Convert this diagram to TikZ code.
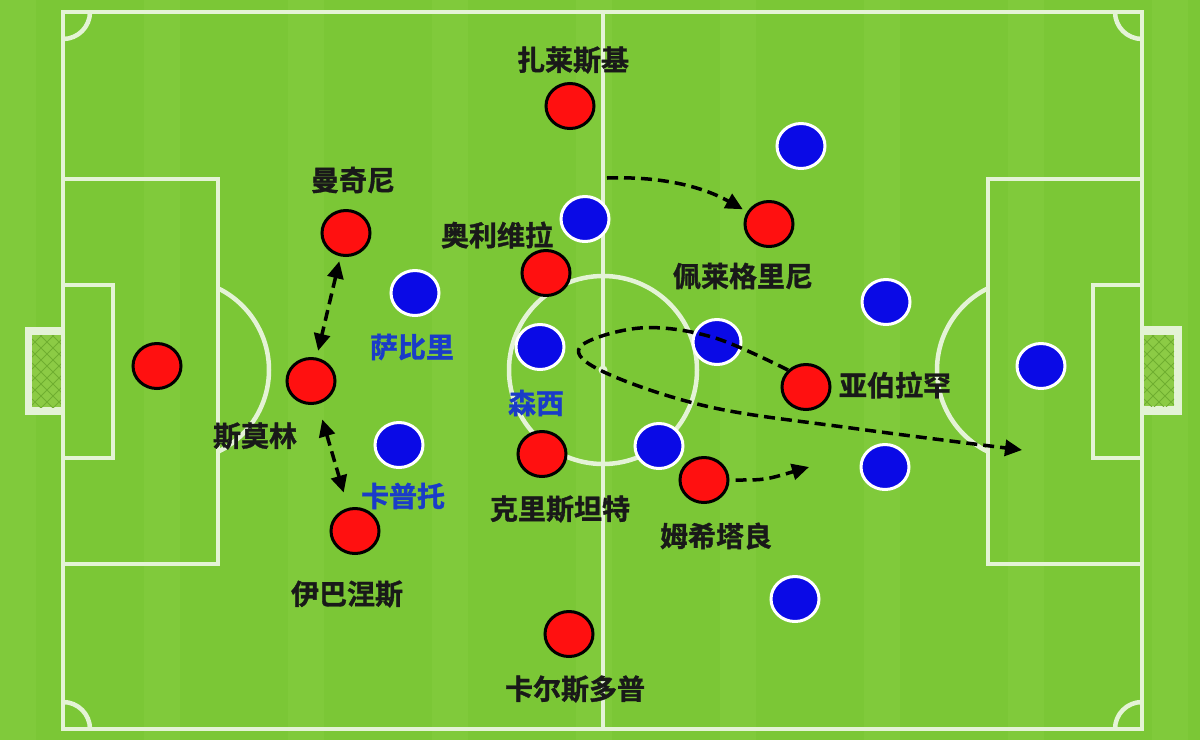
\documentclass[tikz,border=0pt]{standalone}
\usepackage{fontspec}
\newfontfamily\cjk{Noto Sans CJK SC}[BoldFont={* Bold},BoldFeatures={FakeBold=1.2}]
\usetikzlibrary{arrows.meta,shapes.geometric}
\definecolor{grassA}{HTML}{7BC736}
\definecolor{grassB}{HTML}{80CA3B}
\definecolor{pline}{HTML}{E4F3D6}
\definecolor{netfill}{HTML}{8CCB45}
\definecolor{netline}{HTML}{6FAE30}
\definecolor{redp}{HTML}{FF1010}
\definecolor{bluep}{HTML}{0A0AE6}
\definecolor{bluetxt}{HTML}{1A3CC8}
\tikzset{
  pitchline/.style={draw=pline,line width=4.5},
  redpl/.style={ellipse,fill=redp,draw=black,line width=3,minimum width=48,minimum height=45,inner sep=0},
  bluepl/.style={ellipse,fill=bluep,draw=white,line width=3,minimum width=48,minimum height=45,inner sep=0},
  plname/.style={font=\cjk\bfseries\fontsize{28}{32}\selectfont,text=black!90,inner sep=0},
  bplname/.style={plname,text=bluetxt},
  dashy/.style={draw=black,line width=3.5,dash pattern=on 11 off 6,-{Triangle[length=17,width=16]}},
  dbl/.style={draw=black,line width=3.5,dash pattern=on 11 off 6,{Triangle[length=17,width=16]}-{Triangle[length=17,width=16]}},
}
\begin{document}
\begin{tikzpicture}[x=1pt,y=-1pt]
\useasboundingbox (0,0) rectangle (1200,740);
% grass
\fill[grassA] (0,0) rectangle (1200,740);
\foreach \i in {0,2,...,16} {\fill[grassB] ({\i*72},0) rectangle ({\i*72+36},740);}
% goal nets
\fill[pline] (25,327) rectangle (64,415);
\fill[netfill] (32,335) rectangle (62,407);
\begin{scope}
\clip (32,335) rectangle (62,407);
\foreach \k in {-80,-68,...,80} {\draw[netline,line width=0.8] (32,335+\k) -- (62,365+\k); \draw[netline,line width=0.8] (62,335+\k) -- (32,365+\k);}
\end{scope}
\fill[pline] (1141,326) rectangle (1182,415);
\fill[netfill] (1144,335) rectangle (1174,406);
\begin{scope}
\clip (1144,335) rectangle (1174,406);
\foreach \k in {-80,-68,...,80} {\draw[netline,line width=0.8] (1144,335+\k) -- (1174,365+\k); \draw[netline,line width=0.8] (1174,335+\k) -- (1144,365+\k);}
\end{scope}
% pitch lines
\draw[pitchline] (63,12) rectangle (1142,729);
\draw[pitchline] (603,12) -- (603,729);
\draw[pitchline] (603,370) circle (94);
\fill[pline] (603,370) circle (4.5);
\draw[pitchline] (63,179) rectangle (218,564);
\draw[pitchline] (63,285) rectangle (113,458);
\draw[pitchline] (988,179) rectangle (1142,564);
\draw[pitchline] (1093,285) rectangle (1142,458);
\begin{scope}
\clip (218,0) rectangle (400,740);
\draw[pitchline] (178,370) circle (91);
\end{scope}
\begin{scope}
\clip (800,0) rectangle (988,740);
\draw[pitchline] (1028,370) circle (91);
\end{scope}
\draw[pitchline] (63,39) arc[start angle=90,end angle=0,radius=27];
\draw[pitchline] (90,729) arc[start angle=0,end angle=-90,radius=27];
\draw[pitchline] (1115,12) arc[start angle=180,end angle=90,radius=27];
\draw[pitchline] (1142,702) arc[start angle=-90,end angle=-180,radius=27];
% blue players
\node[bluepl] (b1) at (801,146) {};
\node[bluepl] (b2) at (585,219) {};
\node[bluepl] (sab) at (415,293) {};
\node[bluepl] (sen) at (540,347) {};
\node[bluepl] (cap) at (399,445) {};
\node[bluepl] (b6) at (717,342) {};
\node[bluepl] (b7) at (659,446) {};
\node[bluepl] (b8) at (886,302) {};
\node[bluepl] (b9) at (885,467) {};
\node[bluepl] (b10) at (795,599) {};
\node[bluepl] (bgk) at (1041,366) {};
% red players
\node[redpl] (zal) at (570,106) {};
\node[redpl] (man) at (346,233) {};
\node[redpl] (gk) at (157,366) {};
\node[redpl] (smo) at (311,381) {};
\node[redpl] (iba) at (355,531) {};
\node[redpl] (oli) at (546,273) {};
\node[redpl] (cri) at (542,454) {};
\node[redpl] (kar) at (569,634) {};
\node[redpl] (pel) at (769,224) {};
\node[redpl] (abr) at (806,387) {};
\node[redpl] (mkh) at (704,480) {};
% labels
\node[plname] (tzal) at (573,60) {扎莱斯基};
\node[plname] (tman) at (353,180) {曼奇尼};
\node[plname] (tsmo) at (255,436) {斯莫林};
\node[plname] (tiba) at (347,594) {伊巴涅斯};
\node[plname] (toli) at (497,235) {奥利维拉};
\node[plname] (tcri) at (560,509) {克里斯坦特};
\node[plname] (tkar) at (575,689) {卡尔斯多普};
\node[plname] (tpel) at (743,276) {佩莱格里尼};
\node[plname] (tabr) at (895,385) {亚伯拉罕};
\node[plname] (tmkh) at (716,536) {姆希塔良};
\node[bplname] (tsab) at (412,347) {萨比里};
\node[bplname] (tsen) at (536,403) {森西};
\node[bplname] (tcap) at (403,496) {卡普托};
% arrows
\draw[dbl,shorten <=5,shorten >=7] (man) -- (smo);
\draw[dbl,shorten <=16,shorten >=16] (smo) -- (iba);
\coordinate (pstart) at (607,178);
\draw[dashy,shorten >=5] (pstart) .. controls (665,176) and (705,188) .. (pel);
\coordinate (mend) at (809,467);
\draw[dashy] ([xshift=6]mkh.east) .. controls (765,480) .. (mend);
\coordinate (gend) at (1022,450);
\draw[dashy] plot[smooth,tension=0.6] coordinates {(abr.north west) (712,337) (640,328) (580,347) (606,373) (710,407) (851,428) (gend)};
\end{tikzpicture}
\end{document}
